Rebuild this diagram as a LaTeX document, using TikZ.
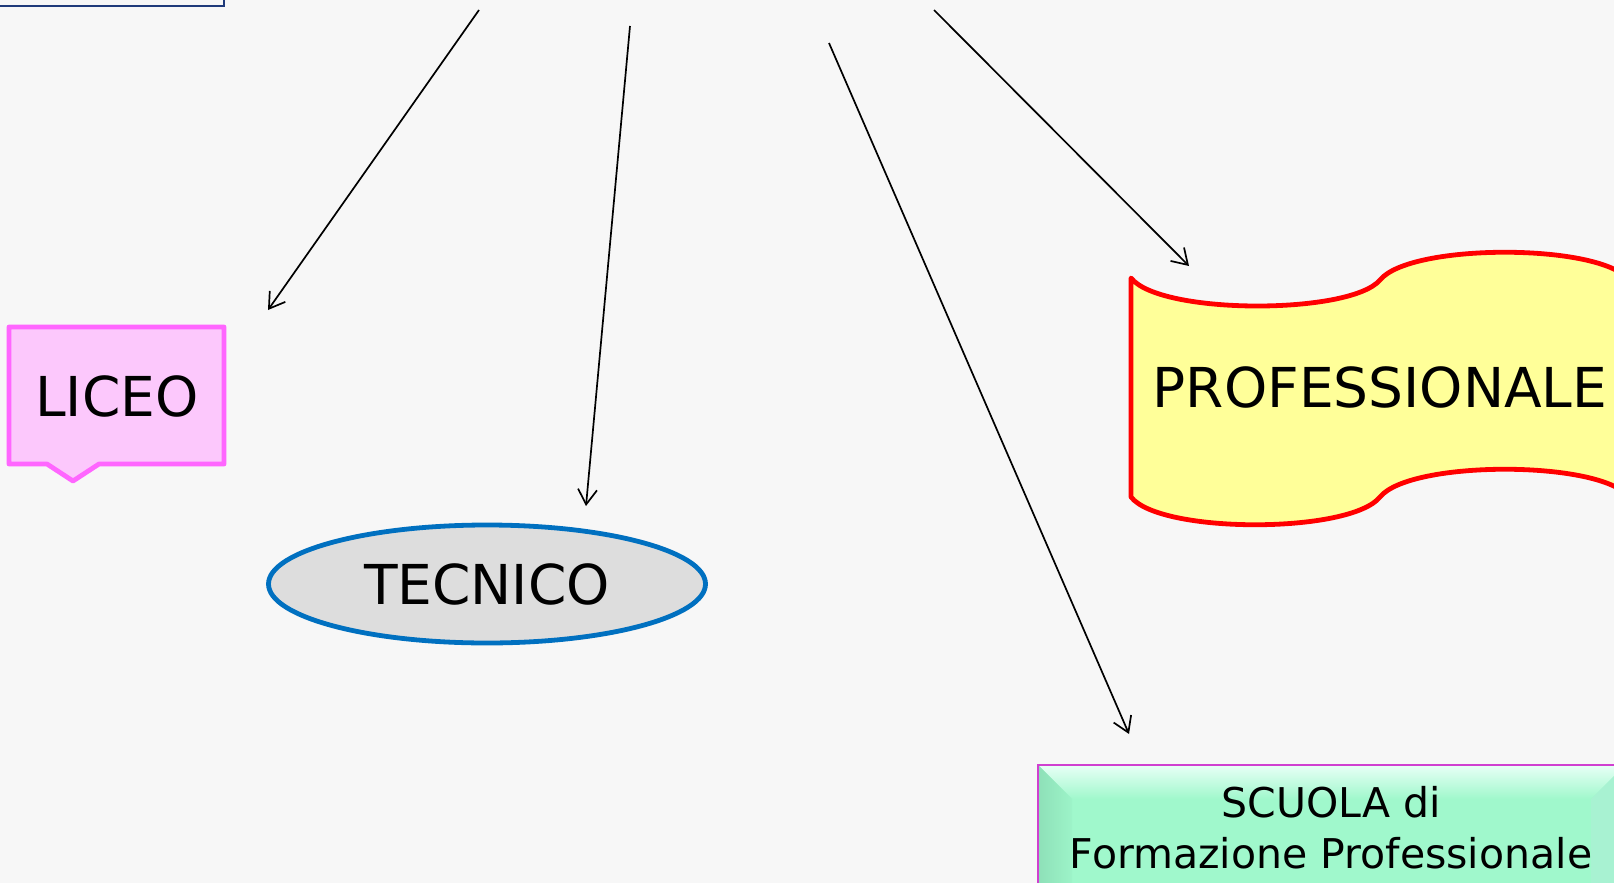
\documentclass[tikz,border=0pt]{standalone}
\usepackage{fontspec}
\setmainfont{DejaVu Sans}
\usetikzlibrary{arrows.meta,shapes.geometric}
\definecolor{bg}{HTML}{F7F7F7}
\definecolor{navyline}{HTML}{1F3A7A}
\definecolor{licfill}{HTML}{FCC8FC}
\definecolor{licline}{HTML}{FF66FF}
\definecolor{tecfill}{HTML}{DDDDDD}
\definecolor{tecline}{HTML}{0070C0}
\definecolor{profill}{HTML}{FFFF99}
\definecolor{proline}{HTML}{FF0000}
\definecolor{scfill}{HTML}{A0F8CC}
\definecolor{sctop}{HTML}{E8FFF6}
\definecolor{scleft}{HTML}{8EE0B8}
\definecolor{scright}{HTML}{A8F2D2}
\definecolor{scline}{HTML}{D040D0}
\tikzset{
  bigtext/.style={font=\fontsize{55}{66}\selectfont, text=black, inner sep=0pt},
  smalltext/.style={font=\fontsize{41}{51}\selectfont, text=black, inner sep=0pt, anchor=base},
  shapeline/.style={line width=4.8pt, line join=round},
  conn/.style={draw=black, line width=1.7pt, -{Straight Barb[length=15pt,width=19pt]}},
}
\begin{document}
\begin{tikzpicture}[x=1pt,y=-1pt]
\useasboundingbox (0,0) rectangle (1614,883);
\fill[bg] (0,0) rectangle (1614,883);
\clip (0,0) rectangle (1614,883);

% top-left box (cut off)
\draw[navyline, line width=2.2pt, fill=bg] (-20,-60) rectangle (224,6);

% LICEO callout
\draw[shapeline, draw=licline, fill=licfill]
  (9,327) -- (224,327) -- (224,464) -- (99,464) -- (73,481) -- (47,464) -- (9,464) -- cycle;
\node[bigtext] (liceo) at (117,396) {LICEO};

% TECNICO ellipse
\node[ellipse, shapeline, draw=tecline, fill=tecfill, minimum width=437pt,
      minimum height=118pt, inner sep=0pt, font=\fontsize{55}{66}\selectfont]
      (tecnico) at (487,584) {TECNICO};

% PROFESSIONALE wave
\draw[shapeline, draw=proline, fill=profill]
  (1131,278) .. controls (1160,315) and (1350,315) .. (1380,280)
  .. controls (1410,243) and (1600,243) .. (1629,280)
  -- (1629,497)
  .. controls (1600,460) and (1410,460) .. (1380,497)
  .. controls (1350,534) and (1160,534) .. (1131,497) -- cycle;
\node[bigtext] (professionale) at (1380,387) {PROFESSIONALE};

% SCUOLA bevel box
\fill[scfill] (1038,765) rectangle (1625,900);
\shade[top color=sctop, bottom color=scfill] (1038,765) -- (1625,765) -- (1591,799) -- (1072,799) -- cycle;
\shade[left color=scleft, right color=scfill!80!scleft] (1038,765) -- (1072,799) -- (1072,900) -- (1038,900) -- cycle;
\fill[scright] (1625,765) -- (1591,799) -- (1591,900) -- (1625,900) -- cycle;
\draw[scline, line width=2.2pt] (1038,900) -- (1038,765) -- (1625,765) -- (1625,900);
\node[smalltext] (scuola1) at (1331,817) {SCUOLA di};
\node[smalltext] (scuola2) at (1331,868) {Formazione Professionale};

% connectors
\coordinate (s1) at (479,10);   \coordinate (e1) at (268,310);
\coordinate (s2) at (630,26);   \coordinate (e2) at (586,506);
\coordinate (s3) at (829,43);   \coordinate (e3) at (1129,734);
\coordinate (s4) at (934,10);   \coordinate (e4) at (1189,266);
\draw[conn] (s1) -- (e1);
\draw[conn] (s2) -- (e2);
\draw[conn] (s3) -- (e3);
\draw[conn] (s4) -- (e4);
\end{tikzpicture}
\end{document}
